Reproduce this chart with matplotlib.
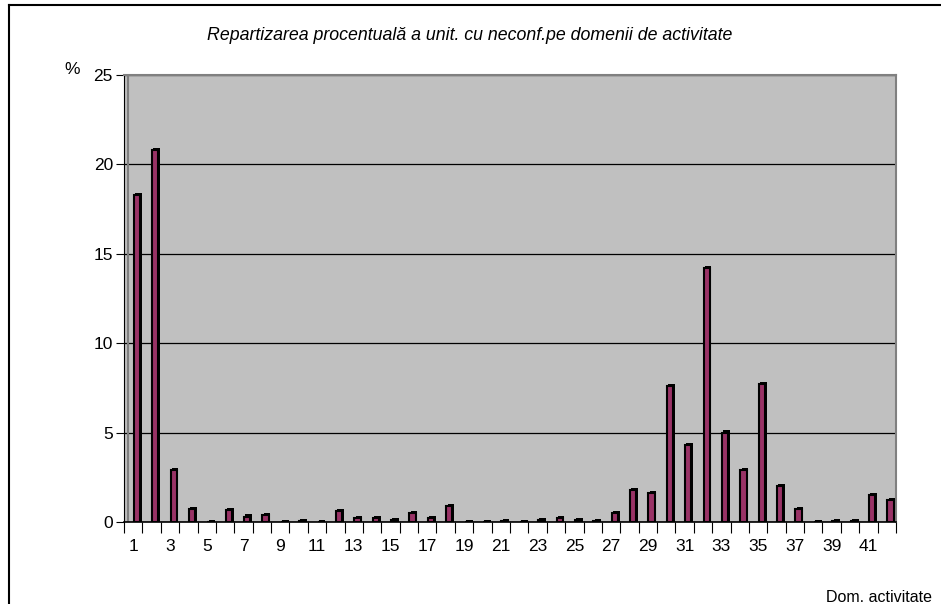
import numpy as np
import matplotlib
matplotlib.use('Agg')
import matplotlib.pyplot as plt
from matplotlib.lines import Line2D

plt.rcParams['font.family'] = ['Liberation Sans', 'DejaVu Sans']

# Data
domenii = list(range(1, 43))
procente = [18.3, 20.8, 2.9, 0.7, 0.0, 0.65, 0.3, 0.4, 0.0, 0.03,
            0.0, 0.6, 0.2, 0.2, 0.1, 0.5, 0.2, 0.9, 0.0, 0.0,
            0.05, 0.0, 0.1, 0.2, 0.1, 0.03, 0.5, 1.8, 1.6, 7.6,
            4.3, 14.2, 5.0, 2.9, 7.7, 2.0, 0.7, 0.0, 0.05, 0.05,
            1.5, 1.25]
y_ticks = [0, 5, 10, 15, 20, 25]
x_labels = [str(d) for d in domenii[::2]]

W, H = 941, 604
fig = plt.figure(figsize=(W / 100, H / 100), dpi=100)

# chart area border (only top and left visible)
fig.add_artist(Line2D([9 / W, 9 / W], [0, 1 - 5 / H], color='black', lw=1.5))
fig.add_artist(Line2D([9 / W, 1], [1 - 5 / H, 1 - 5 / H], color='black', lw=1.5))

ax = fig.add_axes([124 / W, 1 - 522 / H, (896 - 124) / W, (522 - 75) / H])
ax.set_facecolor('#C0C0C0')

x = np.array(domenii, dtype=float)
vals = np.array(procente)
off = 0.2
# dark 3D side/top, then the front face
ax.bar(x + off + 0.08, vals + 0.12, width=0.36, color='black', zorder=3)
ax.bar(x + off, vals, width=0.34, color='#993366', edgecolor='black',
       linewidth=1.5, zorder=4)

ax.set_xlim(0.5, 42.5)
ax.set_ylim(0, 25)
ax.set_yticks(y_ticks)
ax.tick_params(axis='y', length=6, labelsize=12.5, pad=2)
ax.yaxis.grid(True, color='black', linewidth=0.9)
ax.set_axisbelow(True)

# category boundary ticks and labels
ax.set_xticks(np.arange(0.5, 43, 1.0))
ax.set_xticklabels([])
ax.set_xticks(x[::2], minor=True)
ax.set_xticklabels(x_labels, minor=True)
ax.tick_params(axis='x', which='major', length=8, direction='out')
ax.tick_params(axis='x', which='minor', length=0, pad=12, labelsize=12.5)

for side in ['top', 'right']:
    ax.spines[side].set_color('#808080')
    ax.spines[side].set_linewidth(1.5)
ax.spines['left'].set_color('black')
ax.spines['bottom'].set_color('black')
ax.spines['bottom'].set_linewidth(1.2)
# back wall edge
ax.plot([0.005, 0.005], [0, 1], transform=ax.transAxes, color='#808080', lw=1.5, zorder=1)

fig.text(470 / W, 1 - 35 / H,
         'Repartizarea procentuală a unit. cu neconf.pe domenii de activitate',
         ha='center', va='center', style='italic', fontsize=12.8)
fig.text(72 / W, 1 - 70 / H, '%', ha='center', va='center', fontsize=12.5)
fig.text(826 / W, 1 - 597 / H, 'Dom. activitate', ha='left', va='center', fontsize=11.5)

fig.savefig('out.png', dpi=100)
